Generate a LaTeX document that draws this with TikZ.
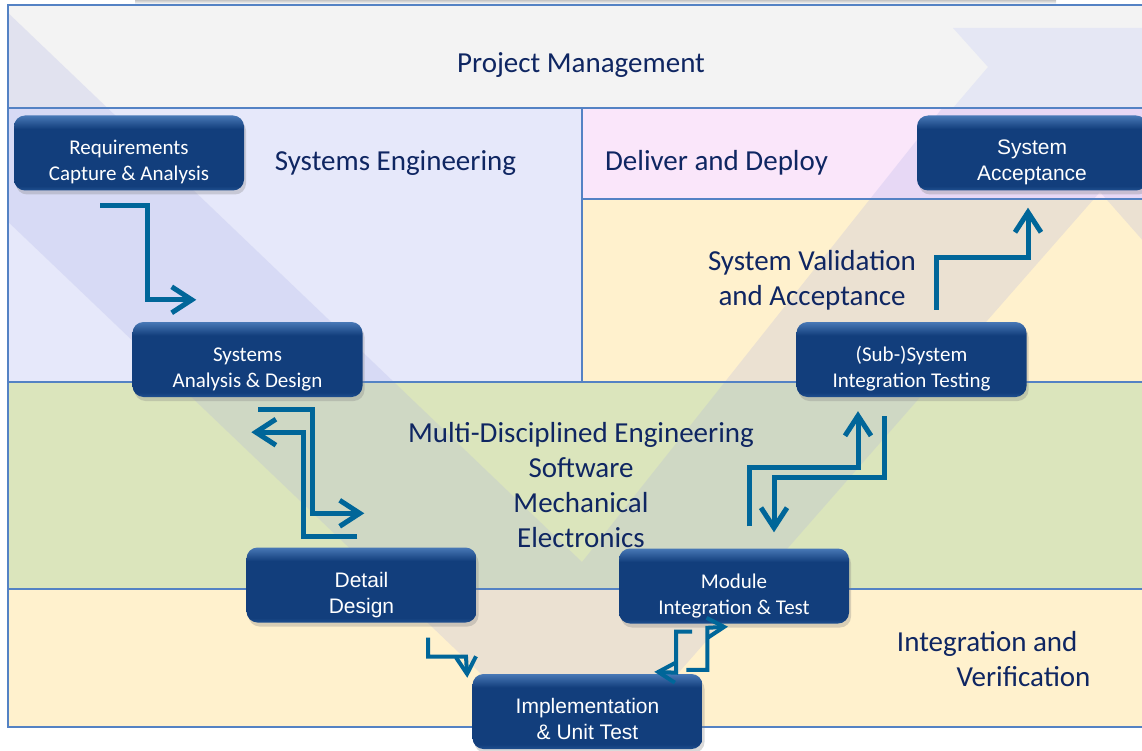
\documentclass[tikz,border=0pt]{standalone}
\usepackage{fontspec}
\setmainfont{Carlito}
\newfontfamily\arialfont{Liberation Sans}
\usepackage{tikz}
\usetikzlibrary{arrows.meta,shadows}

\definecolor{pmgrey}{RGB}{243,243,243}
\definecolor{selav}{RGB}{230,232,250}
\definecolor{ddpink}{RGB}{250,230,250}
\definecolor{vayellow}{RGB}{255,241,205}
\definecolor{mdgreen}{RGB}{219,229,188}
\definecolor{frameblue}{RGB}{84,130,196}
\definecolor{labelblue}{RGB}{15,38,98}
\definecolor{flowblue}{RGB}{0,102,153}
\definecolor{vband}{RGB}{165,170,228}
\definecolor{pmlav}{RGB}{229,231,244}
\definecolor{boxtop}{RGB}{72,120,182}
\definecolor{boxmid}{RGB}{18,62,124}
\definecolor{boxbot}{RGB}{32,80,144}

\pgfdeclareverticalshading{boxshade}{100bp}{color(0bp)=(boxbot); color(25bp)=(boxbot); color(28bp)=(boxmid); color(66bp)=(boxmid); color(75bp)=(boxtop); color(100bp)=(boxtop)}

\begin{document}
\begin{tikzpicture}[x = 1pt, y = -1pt,
                    phase/.style = {rounded corners = 11pt, minimum width = 230pt, minimum height = 75pt, text height = 62pt, text depth = 6pt, shading = boxshade, text = white, align = center, font = \fontsize{21}{26}\selectfont, drop shadow = {shadow xshift = 2pt, shadow yshift = -4pt, opacity = 0.3}},
                    arialphase/.style = {phase, font = \arialfont\fontsize{21}{26}\selectfont},
                    region/.style = {text = labelblue, align = center, font = \fontsize{29}{35}\selectfont},
                    flow/.style = {draw = flowblue, line width = 5pt, -{Straight Barb[length = 20pt, width = 26pt]}},
                    smallflow/.style = {flow, line width = 4pt, -{Straight Barb[length = 17pt, width = 20pt]}},
                    border/.style = {draw = frameblue, line width = 1.5pt}]
  \useasboundingbox (0, 0) rectangle (1142, 751);
  \shade[top color = gray!45, bottom color = white] (135, 0) rectangle (1056, 4);
  \fill[pmgrey] (8, 5) rectangle (1150, 108);
  \fill[selav] (8, 108) rectangle (582, 382);
  \fill[ddpink] (582, 108) rectangle (1150, 199);
  \fill[vayellow] (582, 199) rectangle (1150, 382);
  \fill[mdgreen] (8, 382) rectangle (1150, 589);
  \fill[vayellow] (8, 589) rectangle (1150, 727);
  \fill[pmlav] (953, 28) -- (1150, 28) -- (1150, 108) -- (953, 108) -- (988, 67) -- cycle;
  \begin{scope}
    \clip (8, 5) -- (582, 5) -- (582, 108) -- (1150, 108) -- (1150, 727) -- (8, 727) -- cycle;
    \fill[vband, opacity = 0.22] (-20, -14) -- (582, 562) -- (1024, 5) -- (1160, 5) -- (1160, 260) -- (1100, 192) -- (588, 776) -- (-20, 195) -- cycle;
  \end{scope}
  \draw[border] (1150, 5) -- (8, 5) -- (8, 727) -- (1150, 727);
  \draw[border] (8, 108) -- (1150, 108);
  \draw[border] (582, 108) -- (582, 382);
  \draw[border] (582, 199) -- (1150, 199);
  \draw[border] (8, 382) -- (1150, 382);
  \draw[border] (8, 589) -- (1150, 589);

  \node [region] (pm) at (581, 65) {Project Management};
  \node [region] (se) at (395.5, 163) {Systems Engineering};
  \node [region] (dd) at (716.5, 163) {Deliver and Deploy};
  \node [region] (sva) at (812, 280.5) {System Validation\\and Acceptance};
  \node [region] (mde) at (581, 485.5) {Multi-Disciplined Engineering\\Software\\Mechanical\\Electronics};
  \node [region, align = right, anchor = east] (iv) at (1094, 659.5) {Integration and\hspace*{13pt}\\Verification};

  \node [phase] (req) at (129, 153) {Requirements\\Capture \& Analysis};
  \node [phase] (sysad) at (247.5, 359.5) {Systems\\Analysis \& Design};
  \node [arialphase] (detail) at (361.5, 585) {Detail\\Design};
  \node [arialphase] (impl) at (587.5, 711.5) {Implementation\\\& Unit Test};
  \node [phase] (module) at (734, 586) {Module\\Integration \& Test};
  \node [phase] (subsys) at (911.5, 359.5) {(Sub-)System\\Integration Testing};
  \node [arialphase] (sysacc) at (1032, 153) {System\\Acceptance};

  \draw[flow] ([shift = {(-29, 15)}]req.south) -- ++(47, 0) |- ([shift = {(64, -22)}]sysad.north west);
  \draw[flow] ([shift = {(10.5, 12)}]sysad.south) -- ++(54, 0) |- ([shift = {(118, -34)}]detail.north west);
  \draw[flow] ([shift = {(111, -11)}]detail.north west) -- ++(-54, 0) |- ([shift = {(119, 35)}]sysad.south west);
  \draw[smallflow] ([shift = {(66.5, 15)}]detail.south) -- ++(0, 19) -- ++(38, 0) -- ([shift = {(-5, 4)}]impl.north west);
  \draw[smallflow] ([shift = {(-42, 8)}]module.south) -- ++(-16, 0) -- ++(0, 41) -- ([shift = {(182, -2)}]impl.north west);
  \draw[smallflow] ([shift = {(214, -4)}]impl.north west) -- ++(21, 0) -- ++(0, -42) -- ([shift = {(-6, 3)}]module.south);
  \draw[flow] ([shift = {(15, -22)}]module.north) -- ++(0, -59) -| ([shift = {(-53.5, 14)}]subsys.south);
  \draw[flow] ([shift = {(-27.5, 19)}]subsys.south) -- ++(0, 61) -| ([shift = {(40, -16)}]module.north);
  \draw[flow] ([shift = {(24.5, -12)}]subsys.north) -- ++(0, -52) -| ([shift = {(-4, 17)}]sysacc.south);
\end{tikzpicture}
\end{document}
